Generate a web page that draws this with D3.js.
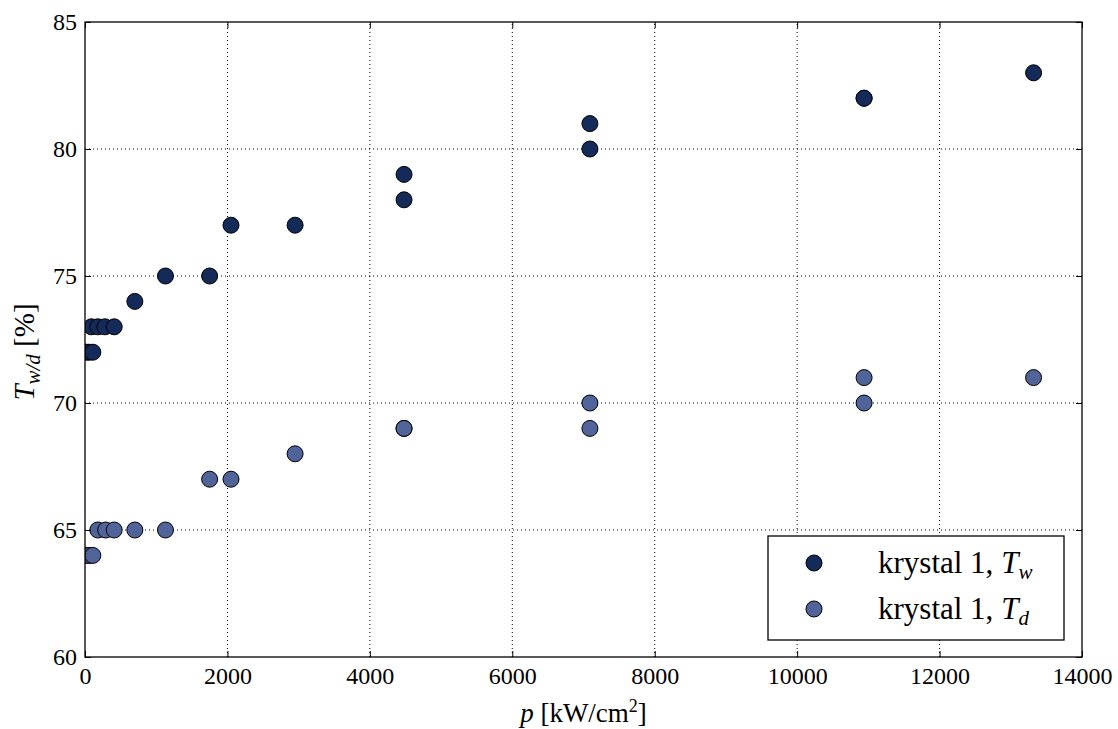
<!DOCTYPE html>
<html>
<head>
<meta charset="utf-8">
<script src="https://cdn.jsdelivr.net/npm/d3@7"></script>
<style>
  body { margin: 0; background: #fff; }
  text { font-family: "Liberation Serif", "DejaVu Serif", serif; fill: #000; }
</style>
</head>
<body>
<svg id="chart"></svg>
<script>
const pW = [20, 60, 110, 90, 180, 280, 410, 700, 1130, 1750, 2050, 2950, 4480, 4480, 7090, 7090, 10940, 10940, 13320];
const tW = [72, 72, 72, 73, 73, 73, 73, 74, 75, 75, 77, 77, 79, 78, 81, 80, 82, 82, 83];
const pD = [20, 60, 110, 180, 290, 410, 700, 1130, 1750, 2050, 2950, 4480, 4480, 7090, 7090, 10940, 10940, 13320];
const tD = [64, 64, 64, 65, 65, 65, 65, 65, 67, 67, 68, 69, 69, 70, 69, 71, 70, 71];
const xTicks = [0, 2000, 4000, 6000, 8000, 10000, 12000, 14000];
const yTicks = [60, 65, 70, 75, 80, 85];

const width = 1118, height = 729;
const margin = {top: 22, right: 36, bottom: 72, left: 85};
const colW = "#142a58", colD = "#51649a";

const svg = d3.select("#chart").attr("width", width).attr("height", height);

const x = d3.scaleLinear().domain([0, 14000]).range([margin.left, width - margin.right]);
const y = d3.scaleLinear().domain([60, 85]).range([height - margin.bottom, margin.top]);

svg.append("clipPath").attr("id", "plotclip").append("rect")
  .attr("x", x(0)).attr("y", y(85))
  .attr("width", x(14000) - x(0)).attr("height", y(60) - y(85));

// grid
const grid = svg.append("g");
grid.selectAll("line.gx").data(xTicks.slice(1, -1)).enter().append("line")
  .attr("x1", d => x(d)).attr("x2", d => x(d))
  .attr("y1", y(60)).attr("y2", y(85))
  .attr("stroke", "#000").attr("stroke-width", 1).attr("stroke-dasharray", "1,3");
grid.selectAll("line.gy").data(yTicks.slice(1, -1)).enter().append("line")
  .attr("y1", d => y(d)).attr("y2", d => y(d))
  .attr("x1", x(0)).attr("x2", x(14000))
  .attr("stroke", "#000").attr("stroke-width", 1).attr("stroke-dasharray", "1,3");

// points
const pts = svg.append("g").attr("clip-path", "url(#plotclip)");
function drawSeries(ps, ts, col) {
  pts.append("g").selectAll("circle").data(ps).enter().append("circle")
    .attr("cx", d => x(d))
    .attr("cy", (d, i) => y(ts[i]))
    .attr("r", 8)
    .attr("fill", col)
    .attr("stroke", "#000").attr("stroke-width", 1);
}
drawSeries(pW, tW, colW);
drawSeries(pD, tD, colD);

// axes (ticks inward, on all sides)
const tl = 6;
svg.append("g").attr("transform", `translate(0,${y(60)})`)
  .call(d3.axisBottom(x).tickValues(xTicks).tickSizeInner(-tl).tickSizeOuter(0).tickPadding(10).tickFormat(d3.format("d")))
  .call(g => g.select(".domain").remove());
svg.append("g").attr("transform", `translate(0,${y(85)})`)
  .call(d3.axisTop(x).tickValues(xTicks).tickSizeInner(-tl).tickSizeOuter(0).tickFormat(""))
  .call(g => g.select(".domain").remove());
svg.append("g").attr("transform", `translate(${x(0)},0)`)
  .call(d3.axisLeft(y).tickValues(yTicks).tickSizeInner(-tl).tickSizeOuter(0).tickPadding(8))
  .call(g => g.select(".domain").remove());
svg.append("g").attr("transform", `translate(${x(14000)},0)`)
  .call(d3.axisRight(y).tickValues(yTicks).tickSizeInner(-tl).tickSizeOuter(0).tickFormat(""))
  .call(g => g.select(".domain").remove());
svg.selectAll(".tick line").attr("stroke", "#000");
svg.selectAll(".tick text").style("font-size", "24px").style("font-family", "Liberation Serif, serif");

svg.append("rect")
  .attr("x", x(0)).attr("y", y(85))
  .attr("width", x(14000) - x(0)).attr("height", y(60) - y(85))
  .attr("fill", "none").attr("stroke", "#000").attr("stroke-width", 1.3);

// axis labels
const xl = svg.append("text").attr("x", (x(0) + x(14000)) / 2).attr("y", 722)
  .attr("text-anchor", "middle").style("font-size", "27px");
xl.append("tspan").attr("font-style", "italic").text("p");
xl.append("tspan").text(" [kW/cm");
xl.append("tspan").attr("dy", -10).style("font-size", "18px").text("2");
xl.append("tspan").attr("dy", 10).text("]");

const yl = svg.append("text")
  .attr("transform", `translate(34,352) rotate(-90)`)
  .attr("text-anchor", "middle").style("font-size", "29px");
yl.append("tspan").attr("font-style", "italic").text("T");
yl.append("tspan").attr("font-style", "italic").attr("dy", 6).style("font-size", "21px").text("w/d");
yl.append("tspan").attr("dy", -6).text(" [%]");

// legend
const legend = svg.append("g");
legend.append("rect").attr("x", 768).attr("y", 536).attr("width", 296).attr("height", 104)
  .attr("fill", "#fff").attr("stroke", "#000").attr("stroke-width", 1.3);
const items = [{c: colW, s: "w"}, {c: colD, s: "d"}];
items.forEach((it, i) => {
  const cy = 563 + i * 46;
  legend.append("circle").attr("cx", 814).attr("cy", cy).attr("r", 8)
    .attr("fill", it.c).attr("stroke", "#000").attr("stroke-width", 1);
  const t = legend.append("text").attr("x", 878).attr("y", cy + 10).style("font-size", "31px");
  t.append("tspan").text("krystal 1, ");
  t.append("tspan").attr("font-style", "italic").text("T");
  t.append("tspan").attr("font-style", "italic").attr("dy", 6).style("font-size", "21px").text(it.s);
});
</script>
</body>
</html>
